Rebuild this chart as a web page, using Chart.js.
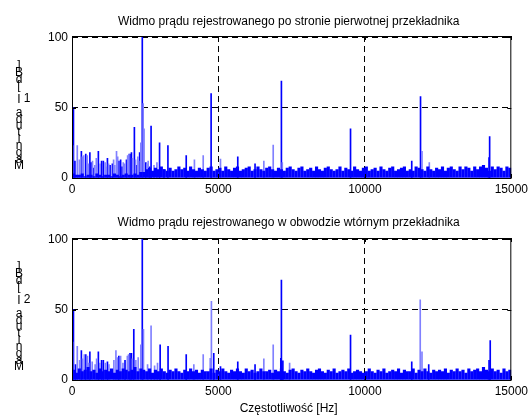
<!DOCTYPE html>
<html>
<head>
<meta charset="utf-8">
<script src="https://cdn.jsdelivr.net/npm/chart.js@4"></script>
<style>
  body { margin: 0; background: #fff; }
  #wrap { position: relative; width: 532px; height: 415px; }
  canvas { position: absolute; left: 0; }
</style>
</head>
<body>
<div id="wrap">
  <canvas id="chartTop" width="532" height="207" style="top:0"></canvas>
  <canvas id="chartBottom" width="532" height="208" style="top:207px"></canvas>
</div>
<script>
// osie
const xTicks = [0, 5000, 10000, 15000];
const yTicks = [0, 50, 100];
const title1 = "Widmo prądu rejestrowanego po stronie pierwotnej przekładnika";
const title2 = "Widmo prądu rejestrowanego w obwodzie wtórnym przekładnika";
const xTitle = "Częstotliwość [Hz]";
const yLabel = "Magnituda I [dB]";

// tlo szumowe, co 100 Hz (od 50 Hz)
const floorStep = 100;
const floorTop = [
  3, 2, 2, 3, 1, 2, 2, 1, 3, 2, 1, 2, 2, 1, 3, 2, 1, 2, 3, 2, 2, 3, 2, 4, 4,
  6, 7, 5, 7, 6, 8, 6, 5, 7, 5, 6, 8, 6, 7, 5, 8, 6, 5, 7, 6, 5, 7, 8, 5, 6,
  7, 5, 8, 6, 5, 7, 8, 5, 6, 7, 8, 5, 6, 8, 6, 5, 7, 8, 6, 5, 7, 6, 5, 7, 8,
  6, 5, 7, 8, 5, 6, 7, 5, 8, 6, 5, 7, 8, 6, 5, 6, 8, 5, 7, 6, 5, 8, 6, 5, 7,
  8, 5, 6, 7, 5, 8, 6, 5, 7, 8, 5, 6, 7, 8, 5, 6, 5, 8, 7, 6, 5, 8, 6, 5, 7,
  6, 8, 5, 7, 8, 6, 5, 8, 6, 8, 7, 5, 8, 6, 8, 9, 7, 5, 8, 6, 8, 7, 5, 8, 7
];
const floorBottom = [
  7, 5, 8, 6, 7, 9, 6, 7, 5, 8, 6, 7, 6, 8, 5, 7, 6, 8, 7, 6, 7, 9, 6, 8, 7,
  6, 8, 5, 7, 6, 8, 6, 5, 7, 6, 8, 6, 5, 7, 6, 8, 6, 7, 5, 7, 6, 6, 8, 5, 7,
  6, 8, 6, 5, 7, 6, 8, 6, 5, 8, 6, 7, 5, 6, 8, 6, 6, 7, 5, 7, 6, 8, 6, 5, 7,
  8, 6, 5, 7, 6, 8, 6, 5, 7, 8, 6, 5, 7, 6, 8, 5, 6, 7, 6, 8, 5, 6, 7, 6, 5,
  6, 8, 6, 5, 7, 6, 8, 5, 6, 7, 6, 8, 5, 7, 6, 6, 8, 5, 7, 6, 8, 6, 5, 7, 6,
  7, 6, 8, 5, 7, 6, 8, 6, 7, 5, 8, 6, 7, 8, 6, 9, 7, 6, 8, 6, 7, 5, 8, 6, 7
];

// prazki - strona pierwotna
const peakFreqTop = [50, 100, 320, 470, 610, 650, 730, 900, 1010, 1070, 1210, 1300, 1380, 1600, 1660, 1710, 1860, 1980, 2030, 2130, 2200, 2310, 2400, 2520, 2650, 2700, 2990, 3140, 3275, 3900, 4750, 5660, 6250, 7150, 9510, 11600, 11900, 14240, 14260];
const peakValTop  = [50, 12, 19, 17, 18, 11, 7, 19, 12, 12, 14, 9, 10, 12, 13, 8, 13, 17, 18, 36, 9, 18, 100, 11, 8, 37, 25, 6, 23, 16, 60, 15, 10, 69, 35, 12, 58, 14.5, 29.5];
const faintFreqTop = [20, 180, 250, 350, 400, 520, 560, 700, 780, 830, 960, 1130, 1170, 1250, 1420, 1460, 1520, 1560, 1750, 1800, 1900, 1940, 2070, 2170, 2250, 2280, 2350, 2430, 2460, 2560, 2600, 2800, 2900, 4180, 4480, 5070, 6550, 6870, 7180, 11950, 12200];
const faintValTop  = [23, 23, 13, 15, 16, 16, 10, 12, 9, 14, 10, 11, 8, 10, 13, 9, 19, 15, 11, 10, 16, 17, 14, 13, 15, 12, 25, 53, 35, 10, 12, 9, 11, 13, 16, 13.5, 12, 23.5, 11, 19, 11];

// prazki - strona wtorna
const peakFreqBottom = [50, 120, 320, 470, 610, 900, 1010, 1070, 1210, 1600, 1810, 1980, 2030, 2110, 2400, 3010, 3280, 3900, 4840, 5070, 5660, 6250, 7130, 7150, 7200, 9510, 11600, 12180, 14240, 14280];
const peakValBottom  = [50, 11, 21, 18, 20, 20, 14, 14, 13, 17, 14, 19, 19, 36, 100, 25, 24, 18, 19, 9.6, 13, 11, 15.5, 71, 13.6, 32, 13, 11, 14, 28];
const faintFreqBottom = [20, 180, 260, 360, 420, 530, 570, 690, 790, 840, 950, 1140, 1260, 1430, 1500, 1550, 1660, 1740, 1890, 1930, 2060, 2180, 2260, 2350, 2440, 2580, 2700, 2820, 2920, 4160, 4480, 4720, 4760, 6550, 6870, 7430, 11890, 11950];
const faintValBottom  = [27, 24, 14, 15, 18, 17, 12, 13, 11, 15, 12, 12, 11, 14, 21, 16, 17, 12, 17, 18, 15, 14, 16, 25, 36, 11, 38.5, 10, 12, 11, 18, 15.5, 56, 15, 25, 12, 57, 20];

const FONT = '"Liberation Sans", Arial, sans-serif';

const toPoints = (freqs, vals) => freqs.map((f, i) => ({ x: f, y: vals[i] }));
const floorPoints = (vals) => vals.map((v, i) => ({ x: 50 + i * floorStep, y: v }));

// ramka, kreski podzialki do srodka, tytuly, opis osi Y (litery jedna pod druga)
const frame = {
  id: "frame",
  afterDatasetsDraw(chart, args, opts) {
    const { ctx, chartArea: a, scales } = chart;
    ctx.save();
    ctx.strokeStyle = "#000";
    ctx.lineWidth = 1;
    ctx.strokeRect(a.left + 0.5, a.top + 0.5, a.right - a.left - 1, a.bottom - a.top);
    ctx.beginPath();
    xTicks.forEach((v) => {
      const px = Math.round(scales.x.getPixelForValue(v)) + 0.5;
      ctx.moveTo(px, a.bottom); ctx.lineTo(px, a.bottom - 4);
      ctx.moveTo(px, a.top); ctx.lineTo(px, a.top + 4);
    });
    yTicks.forEach((v) => {
      const py = Math.round(scales.y.getPixelForValue(v)) + 0.5;
      ctx.moveTo(a.left, py); ctx.lineTo(a.left + 4, py);
      ctx.moveTo(a.right, py); ctx.lineTo(a.right - 4, py);
    });
    ctx.stroke();

    ctx.fillStyle = "#000";
    ctx.font = "12px " + FONT;
    ctx.textAlign = "center";
    ctx.textBaseline = "middle";
    const cx = (a.left + a.right) / 2 - 3;
    ctx.fillText(opts.title, cx, opts.titleY);
    if (opts.xTitle) ctx.fillText(opts.xTitle, cx, opts.xTitleY);

    // opis osi Y
    const chars = yLabel.split("");
    const step = 100 / (chars.length - 1);
    chars.forEach((ch, i) => {
      ctx.fillText(ch, 19, opts.labelBottom - i * step);
      if (ch === "I") {
        ctx.fillText(opts.sub, 27, opts.labelBottom - i * step - 1);
      }
    });
    ctx.restore();
  }
};

const makeChart = (id, floorVals, pF, pV, fF, fV, cfg) => {
  return new Chart(document.getElementById(id), {
    type: "bar",
    data: {
      datasets: [
        { data: floorPoints(floorVals), backgroundColor: "#0000ff", barThickness: 2.5 },
        { data: toPoints(fF, fV), backgroundColor: "#8080ff", barThickness: 1 },
        { data: toPoints(pF, pV), backgroundColor: "#0000ff", barThickness: 1 }
      ]
    },
    options: {
      responsive: false,
      animation: false,
      datasets: { bar: { grouped: false, borderWidth: 0 } },
      layout: { padding: { left: 0, right: 19, top: cfg.top, bottom: 0 } },
      plugins: {
        legend: { display: false },
        tooltip: { enabled: false },
        frame: cfg
      },
      scales: {
        x: {
          type: "linear",
          min: 0,
          max: 15000,
          offset: false,
          afterBuildTicks: (s) => { s.ticks = xTicks.map((v) => ({ value: v })); },
          afterFit: (s) => { s.height = cfg.xHeight; },
          ticks: {
            color: "#000", font: { size: 12, family: FONT }, padding: 4,
            maxRotation: 0, autoSkip: false, callback: (v) => String(v)
          },
          grid: {
            offset: false,
            drawTicks: false,
            color: (c) => (c.tick && c.tick.value > 0 && c.tick.value < 15000 ? "#000" : "rgba(0,0,0,0)")
          },
          border: { display: false, dash: [6, 4] }
        },
        y: {
          min: 0,
          max: 101,
          afterBuildTicks: (s) => { s.ticks = yTicks.map((v) => ({ value: v })); },
          afterFit: (s) => { s.width = 72; },
          ticks: { color: "#000", font: { size: 12, family: FONT }, padding: 4, callback: (v) => String(v) },
          grid: {
            drawTicks: false,
            color: (c) => (c.tick && c.tick.value > 0 ? "#000" : "rgba(0,0,0,0)")
          },
          border: { display: false, dash: [6, 4] }
        }
      }
    },
    plugins: [frame]
  });
};

makeChart("chartTop", floorTop, peakFreqTop, peakValTop, faintFreqTop, faintValTop, {
  title: title1, titleY: 22, top: 36, xHeight: 29, sub: "1", labelBottom: 166
});
makeChart("chartBottom", floorBottom, peakFreqBottom, peakValBottom, faintFreqBottom, faintValBottom, {
  title: title2, titleY: 16, top: 31, xHeight: 35, sub: "2", labelBottom: 160,
  xTitle: xTitle, xTitleY: 202
});
</script>
</body>
</html>
